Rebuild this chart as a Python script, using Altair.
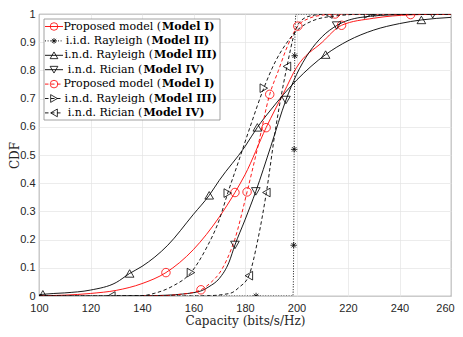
import altair as alt
import pandas as pd

# ---------------- data ----------------
# Model I, analytical (red solid, circles)
m1_x = [100, 110, 120, 130, 140, 149.3, 160, 170, 176.1, 180, 188.2, 195, 200, 210, 217.5, 230, 244.3, 260]
m1_y = [0.001, 0.003, 0.009, 0.02, 0.044, 0.083, 0.165, 0.28, 0.367, 0.43, 0.597, 0.72, 0.81, 0.9, 0.96, 0.985, 0.997, 1.0]
m1_mx = [149.3, 176.1, 188.2, 217.5, 244.3]
m1_my = [0.083, 0.367, 0.597, 0.96, 0.998]

# Model II, i.i.d. Rayleigh (black dotted, stars)
m2_x = [100, 184.3, 198.6, 198.8, 198.9, 199.0, 199.1, 199.2, 199.3, 199.5, 199.8, 229.8, 260]
m2_y = [0, 0, 0, 0.06, 0.18, 0.35, 0.52, 0.69, 0.852, 0.96, 1, 1, 1]
m2_mx = [184.3, 198.9, 199.1, 199.3, 229.8]
m2_my = [0, 0.18, 0.52, 0.852, 1.0]

# Model III, i.n.d. Rayleigh (black solid, up triangles)
m3_x = [100, 101.5, 110, 120, 130, 135.2, 140, 150, 160, 166.1, 170, 180, 184.8, 190, 200, 211.3, 220, 230, 240, 248.5, 260]
m3_y = [0.004, 0.006, 0.011, 0.021, 0.048, 0.08, 0.105, 0.18, 0.29, 0.357, 0.41, 0.53, 0.598, 0.66, 0.765, 0.856, 0.905, 0.943, 0.966, 0.979, 0.988]
m3_mx = [101.5, 135.2, 166.1, 184.8, 211.3, 248.5]
m3_my = [0.006, 0.08, 0.357, 0.598, 0.856, 0.979]

# Model IV, i.n.d. Rician (black solid, down triangles)
m4_x = [100, 130, 140, 150, 155.8, 162.9, 166, 170, 173.8, 176.1, 180, 184.2, 190, 195.9, 200, 205, 210, 215.6, 225, 240, 252.9, 260]
m4_y = [0, 0, 0.0005, 0.003, 0.007, 0.018, 0.033, 0.062, 0.12, 0.181, 0.27, 0.371, 0.53, 0.695, 0.785, 0.865, 0.92, 0.959, 0.988, 0.998, 1, 1]
m4_mx = [176.1, 184.2, 195.9, 215.6, 252.9]
m4_my = [0.181, 0.371, 0.695, 0.959, 0.999]

# Model I, simulation (red dashed, circles)
s1_x = [140, 150, 155, 160, 162.9, 167, 170, 173, 176, 180.8, 185, 189.6, 193, 196, 200.5, 205, 210, 215, 260]
s1_y = [0, 0.002, 0.006, 0.013, 0.022, 0.05, 0.08, 0.13, 0.2, 0.369, 0.53, 0.715, 0.8, 0.875, 0.957, 0.985, 0.996, 1, 1]
s1_mx = [162.9, 180.8, 189.6, 200.5, 215]
s1_my = [0.022, 0.369, 0.715, 0.957, 1.0]

# Model III, simulation (black dashed, right triangles)
s3_x = [130, 139.7, 145, 151.9, 159, 165, 170, 173.3, 177.6, 182, 187.3, 192, 196, 200, 206, 215, 227.8, 260]
s3_y = [0, 0.001, 0.01, 0.035, 0.083, 0.17, 0.27, 0.365, 0.48, 0.6, 0.737, 0.835, 0.895, 0.94, 0.975, 0.993, 1, 1]
s3_mx = [159, 173.3, 187.3, 227.8]
s3_my = [0.083, 0.365, 0.737, 1.0]

# Model IV, simulation (black dashed, left triangles)
s4_x = [100, 128.1, 160, 168, 172, 175, 177.6, 181.5, 185, 188.3, 192, 196.3, 199.5, 203, 207, 212.4, 260]
s4_y = [0, 0, 0, 0.002, 0.006, 0.012, 0.03, 0.072, 0.2, 0.367, 0.6, 0.814, 0.94, 0.985, 0.996, 1, 1]
s4_mx = [128.1, 181.5, 188.3, 196.3, 212.4]
s4_my = [0, 0.072, 0.367, 0.814, 1.0]

x_ticks = [100, 120, 140, 160, 180, 200, 220, 240, 260]
y_ticks = [0, 0.1, 0.2, 0.3, 0.4, 0.5, 0.6, 0.7, 0.8, 0.9, 1]

legend_normal = ["Proposed model (", "i.i.d. Rayleigh (", "i.n.d. Rayleigh (", "i.n.d. Rician (",
                 "Proposed model (", "i.n.d. Rayleigh (", "i.n.d. Rician ("]
legend_bold = ["Model I)", "Model II)", "Model III)", "Model IV)", "Model I)", "Model III)", "Model IV)"]

# ---------------- styling ----------------
RED = "#ff0000"
BLK = "#000000"
DASH = [3.5, 2.5]
DOT = [1, 1.6]
STAR = "M0,-1L0,1M-1,0L1,0M-0.7,-0.7L0.7,0.7M-0.7,0.7L0.7,-0.7"

series = [
    (m1_x, m1_y, m1_mx, m1_my, RED, None, "circle", 72),
    (m2_x, m2_y, m2_mx, m2_my, BLK, DOT, STAR, 42),
    (m3_x, m3_y, m3_mx, m3_my, BLK, None, "triangle-up", 75),
    (m4_x, m4_y, m4_mx, m4_my, BLK, None, "triangle-down", 75),
    (s1_x, s1_y, s1_mx, s1_my, RED, DASH, "circle", 72),
    (s3_x, s3_y, s3_mx, s3_my, BLK, DASH, "triangle-right", 75),
    (s4_x, s4_y, s4_mx, s4_my, BLK, DASH, "triangle-left", 75),
]

W, H = 412, 282
xscale = alt.Scale(domain=[100, 260], nice=False, zero=False)
yscale = alt.Scale(domain=[0, 1], nice=False, zero=False)
xaxis = alt.Axis(values=x_ticks, title="Capacity (bits/s/Hz)", labelPadding=6, titlePadding=2,
                 labelFlush=False,
                 labelOffset={"condition": {"test": "datum.value === 260", "value": -6}, "value": 0})
yaxis = alt.Axis(values=y_ticks, format=".1~f", title="CDF", labelPadding=4, labelFlush=False,
                 titleX=-25, titleY=H / 2, titleBaseline="middle")

layers = []
for lx, ly, mx, my, col, dash, shape, size in series:
    kw = dict(color=col, strokeWidth=0.9, interpolate="monotone", clip=True)
    if dash:
        kw["strokeDash"] = dash
    layers.append(
        alt.Chart(pd.DataFrame({"x": lx, "y": ly})).mark_line(**kw).encode(
            x=alt.X("x:Q", scale=xscale, axis=xaxis),
            y=alt.Y("y:Q", scale=yscale, axis=yaxis),
        )
    )
for lx, ly, mx, my, col, dash, shape, size in series:
    layers.append(
        alt.Chart(pd.DataFrame({"x": mx, "y": my})).mark_point(
            shape=shape, size=size, filled=False, color=col, strokeWidth=0.8, opacity=1, clip=True
        ).encode(
            x=alt.X("x:Q", scale=xscale, axis=xaxis),
            y=alt.Y("y:Q", scale=yscale, axis=yaxis),
        )
    )

# ---------------- legend (drawn manually to allow bold parts) ----------------
one = pd.DataFrame({"a": [0]})
layers.append(
    alt.Chart(one).mark_rect(fill="white", stroke="#8c8c8c", strokeWidth=0.8).encode(
        x=alt.value(5), x2=alt.value(181), y=alt.value(5), y2=alt.value(106)
    )
)
junction = [122, 111.5, 114, 103.4, 122, 114, 103.4]
for i, (lx, ly, mx, my, col, dash, shape, size) in enumerate(series):
    ry = 12.5 + 14.4 * i
    rk = dict(color=col, strokeWidth=0.9)
    if dash:
        rk["strokeDash"] = dash
    layers.append(alt.Chart(one).mark_rule(**rk).encode(
        x=alt.value(6), x2=alt.value(24), y=alt.value(ry)))
    layers.append(alt.Chart(one).mark_point(
        shape=shape, size=size * 0.8, filled=False, color=col, strokeWidth=0.8, opacity=1
    ).encode(x=alt.value(15), y=alt.value(ry)))
    layers.append(alt.Chart(one).mark_text(
        align="right", baseline="middle", font="DejaVu Serif", fontSize=11, color="black"
    ).encode(x=alt.value(junction[i]), y=alt.value(ry), text=alt.value(legend_normal[i])))
    layers.append(alt.Chart(one).mark_text(
        align="left", baseline="middle", font="DejaVu Serif", fontSize=11, fontWeight="bold", color="black"
    ).encode(x=alt.value(junction[i] + 1), y=alt.value(ry), text=alt.value(legend_bold[i])))

chart = alt.layer(*layers).properties(
    width=W, height=H,
    autosize=alt.AutoSizeParams(type="none"),
    padding={"left": 31, "top": 6, "right": 4, "bottom": 33},
).configure_view(
    stroke="#555555", strokeWidth=0.8
).configure_axis(
    grid=True, gridColor="#e4e4e4", gridWidth=0.7, ticks=False, domain=False,
    labelFont="Liberation Sans", labelFontSize=11, labelColor="#262626",
    titleFont="DejaVu Serif", titleFontSize=12, titleFontWeight="normal", titleColor="#262626",
)

chart.save("out.html", embed_options={"renderer": "svg", "actions": False})
